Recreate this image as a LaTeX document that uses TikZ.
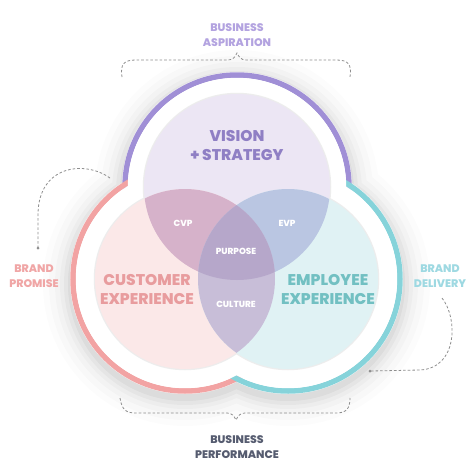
\documentclass[tikz,border=0pt]{standalone}
\usepackage{fontspec}
\setmainfont{Poppins}[BoldFont={Poppins ExtraBold}]
\definecolor{ringT}{HTML}{A08FD6}
\definecolor{ringL}{HTML}{F2A3A3}
\definecolor{ringR}{HTML}{86D3DA}
\definecolor{diskT}{HTML}{ECE6F4}
\definecolor{diskL}{HTML}{FBE8E8}
\definecolor{diskR}{HTML}{E0F2F4}
\definecolor{cvpC}{HTML}{D6B2CA}
\definecolor{evpC}{HTML}{BAC6E2}
\definecolor{culC}{HTML}{C8BED8}
\definecolor{purC}{HTML}{B6A7CA}
\definecolor{txtAsp}{HTML}{B3A3E0}
\definecolor{txtVis}{HTML}{8F7FC4}
\definecolor{txtCus}{HTML}{E89C9E}
\definecolor{txtEmp}{HTML}{72C0C2}
\definecolor{txtProm}{HTML}{F0A6A6}
\definecolor{txtDel}{HTML}{9ED9E2}
\definecolor{txtPerf}{HTML}{565C70}
\definecolor{dashC}{HTML}{8E8E8E}
\tikzset{
  ringline/.style={line width=5.5pt},
  dashline/.style={draw=dashC, line width=0.8pt, dash pattern=on 2.6pt off 2pt},
  enddot/.style={circle, fill=dashC, inner sep=0pt, minimum size=3pt},
  lbl/.style={font=\bfseries\fontsize{11}{15}\selectfont, align=center, inner sep=0pt},
  big/.style={font=\bfseries\fontsize{15.5}{19}\selectfont, align=center, inner sep=0pt},
  small/.style={font=\bfseries\fontsize{8.8}{10}\selectfont, text=white, inner sep=0pt}
}
\begin{document}
\begin{tikzpicture}[x=1pt,y=-1pt]
\useasboundingbox (0,0) rectangle (474,474);
\fill[white] (0,0) rectangle (474,474);
\coordinate (cT) at (237,187);
\coordinate (cL) at (185,279);
\coordinate (cR) at (288,279);
% soft shadow
\foreach \r/\o in {142/0.012,136/0.016,130/0.02,125/0.025,121/0.03,117/0.04} {
  \fill[black,opacity=\o] ([yshift=-5pt]cT) circle (\r) ([yshift=-5pt]cL) circle (\r) ([yshift=-5pt]cR) circle (\r);
}
% white blob
\fill[white] (cT) circle (115) (cL) circle (115) (cR) circle (115);
% rings
\draw[ringline, ringT] (cT) circle (112);
\draw[ringline, ringL] (cL) circle (112);
\draw[ringline, ringR] (cR) circle (112);
\fill[white] (cT) circle (109.2) (cL) circle (109.2) (cR) circle (109.2);
% inner disks: soft edges
\draw[line width=2.5pt, black!7] (cT) circle (93) (cL) circle (90) (cR) circle (90);
\fill[diskT] (cT) circle (93);
\fill[diskL] (cL) circle (90);
\fill[diskR] (cR) circle (90);
\begin{scope}
  \clip (cT) circle (93);
  \fill[cvpC] (cL) circle (90);
\end{scope}
\begin{scope}
  \clip (cT) circle (93);
  \fill[evpC] (cR) circle (90);
\end{scope}
\begin{scope}
  \clip (cL) circle (90);
  \fill[culC] (cR) circle (90);
\end{scope}
\begin{scope}
  \clip (cT) circle (93);
  \clip (cL) circle (90);
  \fill[purC] (cR) circle (90);
\end{scope}
% texts inside
\node[big, text=txtVis] (vis) at (237,146) {VISION\\+\,STRATEGY};
\node[big, text=txtCus] (cus) at (147,289) {CUSTOMER\\EXPERIENCE};
\node[big, text=txtEmp] (emp) at (328,289) {EMPLOYEE\\EXPERIENCE};
\node[small] (cvp) at (183,223) {CVP};
\node[small] (evp) at (287,223) {EVP};
\node[small] (pur) at (236,251) {PURPOSE};
\node[small] (cul) at (236,304) {CULTURE};
% outer labels
\node[lbl, text=txtAsp] (asp) at (237,35.5) {BUSINESS\\ASPIRATION};
\node[lbl, text=txtPerf] (perf) at (237,447) {BUSINESS\\PERFORMANCE};
\node[lbl, text=txtProm] (prom) at (34,276) {BRAND\\PROMISE};
\node[lbl, text=txtDel] (del) at (440,276) {BRAND\\DELIVERY};
% dashed connectors
\coordinate (tl) at (122,77);
\coordinate (tr) at (350,77);
\coordinate (tm) at (237,53);
\draw[dashline] (tl) .. controls (120,64) and (124,60) .. (136,60) -- (228,60)
  .. controls (233,60) and (235,57) .. (tm) .. controls (239,57) and (241,60) .. (246,60)
  -- (336,60) .. controls (348,60) and (352,64) .. (tr);
\coordinate (bl) at (120,398);
\coordinate (br) at (350,398);
\coordinate (bm) at (236,420);
\draw[dashline] (bl) .. controls (122,410) and (126,413) .. (136,413) -- (227,413)
  .. controls (232,413) and (234,416) .. (bm) .. controls (238,416) and (240,413) .. (245,413)
  -- (336,413) .. controls (346,413) and (350,409) .. (br);
\coordinate (ls) at (110,178);
\node[enddot] (le) at (38,248) {};
\draw[dashline] (ls) .. controls (85,160) and (38,165) .. (38,215) -- (le.center);
\coordinate (rs) at (442,298);
\node[enddot] (re) at (370,371) {};
\draw[dashline] (rs) .. controls (458,318) and (458,368) .. (420,370) -- (re.center);
\end{tikzpicture}
\end{document}
